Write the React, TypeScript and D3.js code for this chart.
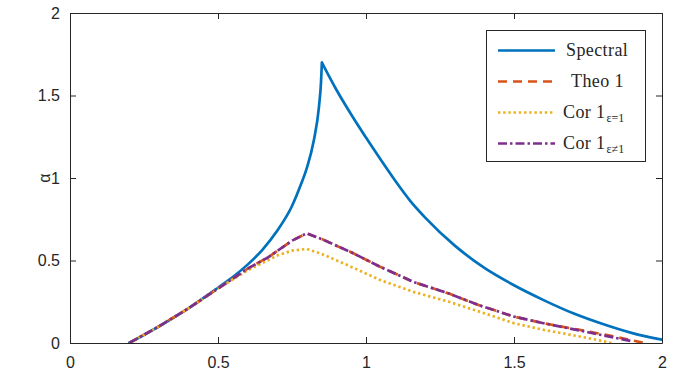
import React, { useEffect, useRef } from 'react';
import * as d3 from 'd3';

const xTicks = [0, 0.5, 1, 1.5, 2];
const yTicks = [0, 0.5, 1, 1.5, 2];

// Spectral (blue, solid) - rising branch up to the cusp, then falling branch
const spectralUpX = [0.2, 0.3, 0.4, 0.5, 0.55, 0.6, 0.65, 0.7, 0.75, 0.78, 0.8, 0.824, 0.841, 0.848, 0.851];
const spectralUpY = [0, 0.1, 0.21, 0.335, 0.4, 0.475, 0.565, 0.68, 0.83, 0.96, 1.06, 1.23, 1.43, 1.58, 1.7];
const spectralDownX = [0.851, 0.9, 0.95, 1.0, 1.05, 1.1, 1.15, 1.2, 1.3, 1.4, 1.5, 1.6, 1.7, 1.8, 1.9, 2.0];
const spectralDownY = [1.7, 1.535, 1.385, 1.245, 1.11, 0.98, 0.86, 0.76, 0.59, 0.455, 0.35, 0.26, 0.18, 0.115, 0.06, 0.02];

// Theo 1 (orange, dashed)
const theoX = [0.2, 0.3, 0.4, 0.5, 0.55, 0.6, 0.67, 0.75, 0.8, 0.85, 0.9, 0.95, 1.05, 1.16, 1.28, 1.38, 1.5, 1.6, 1.75, 1.85, 1.94];
const theoY = [0, 0.1, 0.21, 0.33, 0.39, 0.45, 0.52, 0.62, 0.665, 0.63, 0.59, 0.55, 0.46, 0.37, 0.3, 0.23, 0.16, 0.12, 0.07, 0.035, 0];

// Cor 1, eps = 1 (yellow, dotted)
const corEq1X = [0.2, 0.3, 0.4, 0.5, 0.6, 0.7, 0.75, 0.8, 0.85, 0.94, 1.05, 1.16, 1.28, 1.4, 1.5, 1.6, 1.75, 1.83];
const corEq1Y = [0, 0.1, 0.21, 0.33, 0.44, 0.53, 0.56, 0.57, 0.54, 0.47, 0.38, 0.31, 0.25, 0.18, 0.12, 0.08, 0.03, 0];

// Cor 1, eps != 1 (purple, dash-dot)
const corNe1X = [0.2, 0.3, 0.4, 0.5, 0.55, 0.6, 0.67, 0.75, 0.8, 0.85, 0.9, 0.95, 1.05, 1.16, 1.28, 1.38, 1.5, 1.6, 1.75, 1.9];
const corNe1Y = [0, 0.1, 0.21, 0.33, 0.39, 0.45, 0.52, 0.62, 0.665, 0.63, 0.59, 0.55, 0.46, 0.37, 0.3, 0.23, 0.16, 0.12, 0.065, 0.01];

const W = 681;
const H = 378;
const margin = { top: 13, right: 19, bottom: 35, left: 70 };
const axisColor = '#262626';

type Series = { parts: [number[], number[]][]; color: string; dash: string | null; width: number; smooth: boolean };

const series: Series[] = [
  { parts: [[spectralUpX, spectralUpY], [spectralDownX, spectralDownY]], color: '#0072BD', dash: null, width: 2.7, smooth: true },
  { parts: [[theoX, theoY]], color: '#D95319', dash: '9 6', width: 2.7, smooth: false },
  { parts: [[corEq1X, corEq1Y]], color: '#EDB120', dash: '2.4 2.8', width: 2.7, smooth: false },
  { parts: [[corNe1X, corNe1Y]], color: '#7E2F8E', dash: '9 3 2.5 3', width: 2.7, smooth: false },
];

function App() {
  const ref = useRef<SVGSVGElement>(null);

  useEffect(() => {
    const svg = d3.select(ref.current);
    svg.selectAll('*').remove();

    const x = d3.scaleLinear().domain([0, 2]).range([margin.left, W - margin.right]);
    const y = d3.scaleLinear().domain([0, 2]).range([H - margin.bottom, margin.top]);

    const styleAxis = (g: any) => {
      g.select('.domain').attr('stroke', axisColor);
      g.selectAll('.tick line').attr('stroke', axisColor);
      g.selectAll('.tick text')
        .attr('fill', axisColor)
        .attr('font-family', "'Liberation Sans', Arial, sans-serif")
        .attr('font-size', 16);
    };

    // data lines, clipped to the axes box
    svg.append('clipPath').attr('id', 'plotclip')
      .append('rect')
      .attr('x', margin.left).attr('y', margin.top)
      .attr('width', W - margin.left - margin.right)
      .attr('height', H - margin.top - margin.bottom);

    const plot = svg.append('g').attr('clip-path', 'url(#plotclip)');
    series.forEach(s => {
      const line = d3.line<[number, number]>()
        .x(d => x(d[0]))
        .y(d => y(d[1]))
        .curve(s.smooth ? d3.curveMonotoneX : d3.curveLinear);
      const d = s.parts
        .map(([xs, ys]) => line(xs.map((v, i) => [v, ys[i]] as [number, number])))
        .join('');
      plot.append('path')
        .attr('fill', 'none')
        .attr('stroke', s.color)
        .attr('stroke-width', s.width)
        .attr('stroke-linejoin', 'round')
        .attr('stroke-linecap', s.smooth ? 'round' : 'butt')
        .attr('stroke-dasharray', s.dash)
        .attr('d', d);
    });

    // axes, ticks inside on all four sides
    svg.append('g')
      .attr('transform', `translate(0,${H - margin.bottom})`)
      .call(d3.axisBottom(x).tickValues(xTicks).tickSizeInner(-6).tickSizeOuter(0).tickPadding(14).tickFormat(d3.format('')))
      .call(styleAxis);
    svg.append('g')
      .attr('transform', `translate(0,${margin.top})`)
      .call(d3.axisTop(x).tickValues(xTicks).tickSizeInner(-6).tickSizeOuter(0).tickFormat(() => ''))
      .call(styleAxis);
    svg.append('g')
      .attr('transform', `translate(${margin.left},0)`)
      .call(d3.axisLeft(y).tickValues(yTicks).tickSizeInner(-6).tickSizeOuter(0).tickPadding(10).tickFormat(d3.format('')))
      .call(styleAxis);
    svg.append('g')
      .attr('transform', `translate(${W - margin.right},0)`)
      .call(d3.axisRight(y).tickValues(yTicks).tickSizeInner(-6).tickSizeOuter(0).tickFormat(() => ''))
      .call(styleAxis);

    svg.append('text')
      .attr('transform', `translate(50,${y(1)}) rotate(-90)`)
      .attr('text-anchor', 'middle')
      .attr('fill', axisColor)
      .attr('font-family', "'Liberation Sans', Arial, sans-serif")
      .attr('font-size', 16)
      .text('α');

    // legend
    const lg = svg.append('g');
    lg.append('rect')
      .attr('x', 486.5).attr('y', 30.5)
      .attr('width', 159).attr('height', 131)
      .attr('fill', 'white')
      .attr('stroke', axisColor)
      .attr('stroke-width', 1);

    const labels = [
      { main: 'Spectral', sub: '', dx: 0 },
      { main: 'Theo 1', sub: '', dx: 5 },
      { main: 'Cor 1', sub: 'ε=1', dx: -3 },
      { main: 'Cor 1', sub: 'ε≠1', dx: -3 },
    ];
    series.forEach((s, i) => {
      const ly = 50.5 + i * 31;
      lg.append('line')
        .attr('x1', 498).attr('x2', 555)
        .attr('y1', ly).attr('y2', ly)
        .attr('stroke', s.color)
        .attr('stroke-width', s.width)
        .attr('stroke-dasharray', s.dash);
      const t = lg.append('text')
        .attr('x', 566 + labels[i].dx)
        .attr('y', ly + 5.5)
        .attr('fill', axisColor)
        .attr('font-family', "'Liberation Serif', 'Times New Roman', serif")
        .attr('font-size', 18)
        .attr('letter-spacing', 0.4);
      t.append('tspan').text(labels[i].main);
      if (labels[i].sub) {
        t.append('tspan')
          .attr('dx', 1)
          .attr('dy', 4)
          .attr('font-size', 12)
          .attr('letter-spacing', 0)
          .text(labels[i].sub);
      }
    });
  }, []);

  return (
    <svg
      ref={ref}
      width={W}
      height={H}
      style={{ position: 'absolute', left: 0, top: 0, background: 'white' }}
    />
  );
}

export default App;
